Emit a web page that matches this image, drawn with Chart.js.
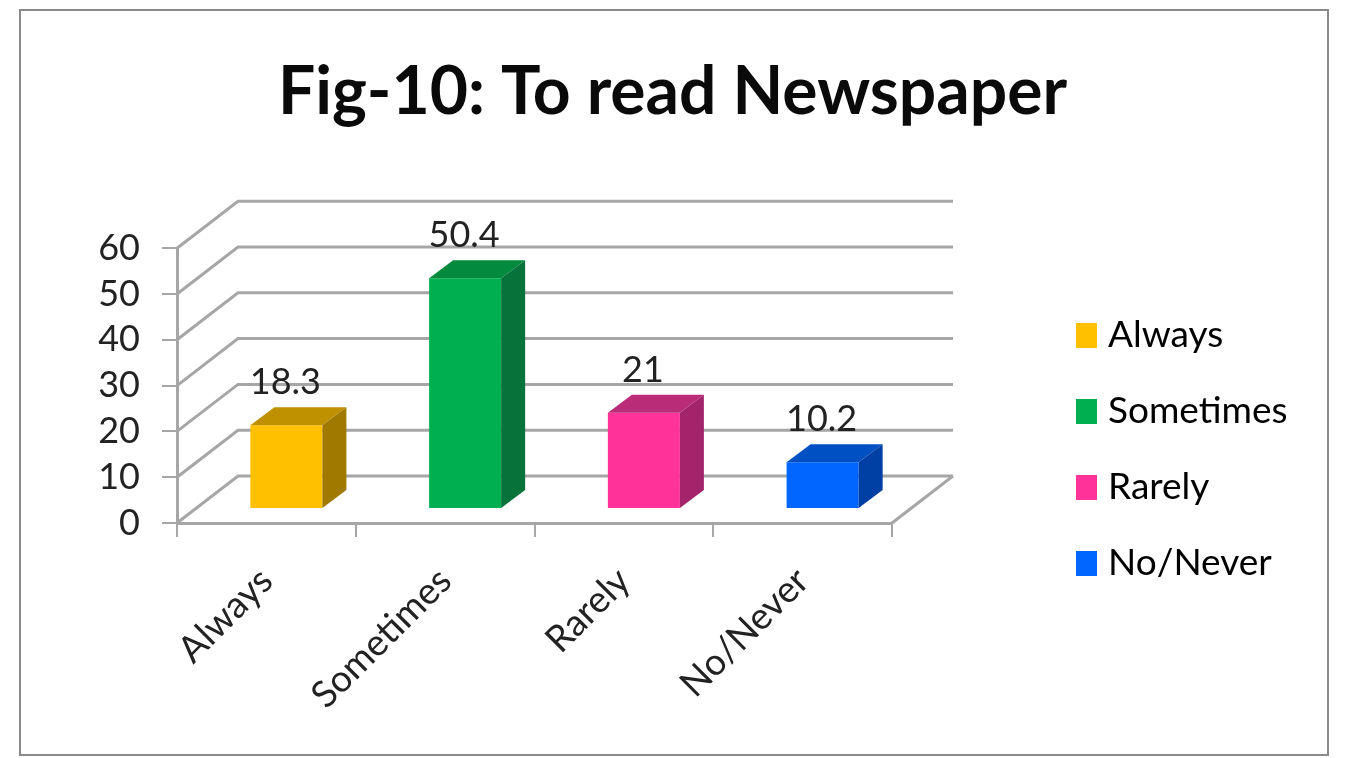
<!DOCTYPE html>
<html>
<head>
<meta charset="utf-8">
<title>Fig-10: To read Newspaper</title>
<script src="https://cdn.jsdelivr.net/npm/chart.js@4"></script>
<style>
  body { margin: 0; background: #fff; }
  canvas { display: block; }
</style>
</head>
<body>
<canvas id="myChart" width="1345" height="758"></canvas>
<script>
const categories = ['Always', 'Sometimes', 'Rarely', 'No/Never'];
const values = [18.3, 50.4, 21, 10.2];
const valueLabels = ['18.3', '50.4', '21', '10.2'];

const frontColors = ['#FFC000', '#00B050', '#FF3399', '#0066FF'];
const topColors = ['#BF9000', '#048A3E', '#B92D78', '#0050C4'];
const sideColors = ['#A07A00', '#06733A', '#A3246A', '#003FA3'];

const gridColor = '#a6a6a6';
const textColor = '#222222';
const fontFamily = 'Lato';

// the back wall sits up and to the right of the front plane
const wallDx = 61;
const wallDy = -47;
// bars stand a bit inside the floor, and have their own depth
const barDx = 20;
const barDy = -14;
const faceDx = 24;
const faceDy = -18;

function polygon(c, points, fill) {
    c.beginPath();
    points.forEach((p, i) => i ? c.lineTo(p[0], p[1]) : c.moveTo(p[0], p[1]));
    c.closePath();
    c.fillStyle = fill;
    c.fill();
}

// legend swatch as a small canvas, so the text can sit closer than the default gap
function swatch(color) {
    const s = document.createElement('canvas');
    s.width = 21;
    s.height = 25;
    const c = s.getContext('2d');
    c.fillStyle = color;
    c.fillRect(0, 0, 21, 25);
    return s;
}

const box3d = {
    id: 'box3d',
    beforeDraw(chart) {
        const c = chart.ctx;
        c.save();
        c.strokeStyle = '#8a8a8a';
        c.lineWidth = 2;
        c.strokeRect(20, 10, 1308, 745);
        c.restore();
    },
    afterLayout(chart) {
        chart.legend.left = 1044.5;
        chart.legend.top = 278;
    },
    beforeDatasetsDraw(chart) {
        const c = chart.ctx;
        const area = chart.chartArea;
        const y = chart.scales.y;
        c.save();
        c.strokeStyle = gridColor;
        c.lineWidth = 3;
        y.ticks.forEach(t => {
            const py = y.getPixelForValue(t.value);
            c.beginPath();
            c.moveTo(area.left, py);
            c.lineTo(area.left + wallDx, py + wallDy);
            c.lineTo(area.right + wallDx, py + wallDy);
            c.stroke();
        });
        // right edge of the floor
        c.beginPath();
        c.moveTo(area.right + wallDx, area.bottom + wallDy);
        c.lineTo(area.right, area.bottom);
        c.stroke();
        c.restore();

        c.save();
        c.translate(barDx, barDy);
    },
    afterDatasetsDraw(chart) {
        const c = chart.ctx;
        chart.getDatasetMeta(0).data.forEach((bar, i) => {
            const p = bar.getProps(['x', 'y', 'base', 'width']);
            const l = p.x - p.width / 2;
            const r = p.x + p.width / 2;
            polygon(c, [[l, p.y], [l + faceDx, p.y + faceDy], [r + faceDx, p.y + faceDy], [r, p.y]], topColors[i]);
            polygon(c, [[r, p.y], [r + faceDx, p.y + faceDy], [r + faceDx, p.base + faceDy], [r, p.base]], sideColors[i]);
            c.fillStyle = textColor;
            c.font = '36px ' + fontFamily;
            c.textAlign = 'center';
            c.textBaseline = 'alphabetic';
            c.fillText(valueLabels[i], p.x - 1, p.y - 31);
        });
        c.restore();
    }
};

new Chart(document.getElementById('myChart'), {
    type: 'bar',
    data: {
        labels: categories,
        datasets: [{
            data: values,
            backgroundColor: frontColors,
            categoryPercentage: 1,
            barPercentage: 0.403,
            clip: false
        }]
    },
    options: {
        responsive: false,
        animation: false,
        layout: { padding: 0 },
        scales: {
            x: {
                grid: { drawOnChartArea: false, color: gridColor, tickLength: 14, lineWidth: 2 },
                border: { color: gridColor, width: 3 },
                ticks: {
                    color: textColor,
                    font: { family: fontFamily, size: 37 },
                    minRotation: 45,
                    maxRotation: 45,
                    autoSkip: false,
                    padding: 22
                },
                afterFit(scale) { scale.height = 235; }
            },
            y: {
                min: 0,
                max: 60,
                grid: { drawOnChartArea: false, color: gridColor, tickLength: 15, lineWidth: 2 },
                border: { color: gridColor, width: 3 },
                ticks: {
                    stepSize: 10,
                    autoSkip: false,
                    color: textColor,
                    font: { family: fontFamily, size: 36 },
                    padding: 22
                },
                afterFit(scale) { scale.width = 177; }
            },
            // empty axis, only keeps the gap between floor and legend
            spacer: {
                position: 'right',
                grid: { display: false },
                border: { display: false },
                ticks: { display: false },
                afterFit(scale) {
                    scale.width = 1345 - 892 - scale.chart.legend.width;
                }
            }
        },
        plugins: {
            tooltip: { enabled: false },
            title: {
                display: true,
                text: 'Fig-10: To read Newspaper',
                color: '#0a0a0a',
                font: { family: fontFamily, size: 66, weight: 'bold' },
                padding: { top: 53, bottom: 116 }
            },
            legend: {
                position: 'right',
                align: 'start',
                labels: {
                    color: textColor,
                    font: { family: fontFamily, size: 37 },
                    usePointStyle: true,
                    pointStyleWidth: 6,
                    padding: 39,
                    generateLabels: () => categories.map((name, i) => ({
                        text: name,
                        pointStyle: swatch(frontColors[i]),
                        index: i
                    }))
                }
            }
        }
    },
    plugins: [box3d]
});
</script>
</body>
</html>
